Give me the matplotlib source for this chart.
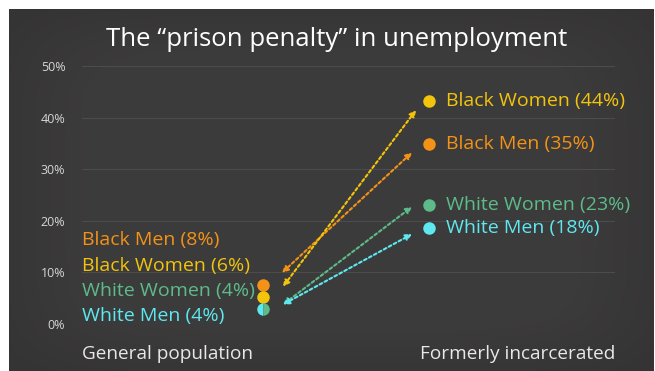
import matplotlib.pyplot as plt
from matplotlib.transforms import offset_copy
import numpy as np

# groups and values (left dots sit slightly stacked, as in the picture)
groups = ['Black Men', 'Black Women', 'White Women', 'White Men']
colors = ['#f39217', '#f2c40c', '#5dbb8a', '#5ee8ef']
general_pct = [8, 6, 4, 4]
general_pos = [7.6, 5.3, 3.0, 3.0]
formerly_pct = [35, 44, 23, 18]
formerly_pos = [34.8, 43.2, 23.1, 18.6]
yticks = [0, 10, 20, 30, 40, 50]
x_labels = ['General population', 'Formerly incarcerated']

plt.rcParams['font.family'] = ['Open Sans', 'DejaVu Sans']

fig = plt.figure(figsize=(6.55, 3.71), dpi=100)
fig.patch.set_facecolor('white')

# dark slide background with a soft vignette
bg = fig.add_axes([9 / 655, 0, 645 / 655, 362 / 371])
yy, xx = np.mgrid[-1:1:200j, -1:1:300j]
r = (np.abs(xx) ** 6 + np.abs(yy) ** 6) ** (1 / 6)
shade = 0.235 - 0.03 * np.clip((r - 0.75) / 0.35, 0, 1)
img = np.dstack([shade + 0.003, shade - 0.002, shade - 0.002])
bg.imshow(img, aspect='auto', extent=[0, 1, 0, 1])
bg.set_axis_off()

ax = fig.add_axes([82 / 655, 47 / 371, 533 / 655, 258 / 371])
ax.set_facecolor('none')
ax.set_xlim(-1.09, 2.12)
ax.set_ylim(0, 50)
for s in ax.spines.values():
    s.set_visible(False)
ax.set_xticks([])
ax.set_yticks(yticks)
ax.set_yticklabels([f'{t}%' for t in yticks], color='#d6d6d6', fontsize=9)
ax.tick_params(axis='y', length=0, pad=12)
ax.grid(axis='y', color='#4c4c4c', linewidth=0.8)
ax.set_axisbelow(True)

# arrows between the two groups; end offsets in pixels (x right, y up)
low_off = [(19, 12), (20, 10), (20, 4), (20, 4)]
up_off = [(-17, -8), (-13, -9), (-17, -2), (-17, -6)]
for i, c in enumerate(colors):
    ax.annotate('', xy=(1, formerly_pos[i]), xytext=(0, general_pos[i]),
                xycoords=offset_copy(ax.transData, fig=fig, x=up_off[i][0], y=up_off[i][1], units='dots'),
                textcoords=offset_copy(ax.transData, fig=fig, x=low_off[i][0], y=low_off[i][1], units='dots'),
                arrowprops=dict(arrowstyle='<|-|>', color=c, lw=1.5,
                                linestyle=(0, (1.4, 1.3)), mutation_scale=9,
                                shrinkA=0, shrinkB=0))

# dots
ax.plot(0, general_pos[0], 'o', ms=9, color=colors[0], mec='none')
ax.plot(0, general_pos[1], 'o', ms=9, color=colors[1], mec='none')
ax.plot(0, general_pos[3], 'o', ms=9, color=colors[3], markerfacecoloralt=colors[2],
        fillstyle='left', mec='none')
for i, c in enumerate(colors):
    ax.plot(1, formerly_pos[i], 'o', ms=9, color=c, mec='none')
    ax.text(1.105, formerly_pos[i], f'{groups[i]} ({formerly_pct[i]}%)', color=c,
            fontsize=14, va='center', ha='left')

# left labels stacked
left_y = [16.2, 11.3, 6.3, 1.6]
for i, c in enumerate(colors):
    ax.text(-1.09, left_y[i], f'{groups[i]} ({general_pct[i]}%)', color=c,
            fontsize=14, va='center', ha='left')

ax.text(-1.09, -5.8, x_labels[0], color='#e8e8e8', fontsize=13.7, va='center', ha='left')
ax.text(2.12, -5.8, x_labels[1], color='#e8e8e8', fontsize=13.7, va='center', ha='right')

fig.text(337 / 655, 1 - 39 / 371, 'The \u201cprison penalty\u201d in unemployment',
         color='white', fontsize=18.5, ha='center', va='center')

fig.savefig('out.png', dpi=100)
